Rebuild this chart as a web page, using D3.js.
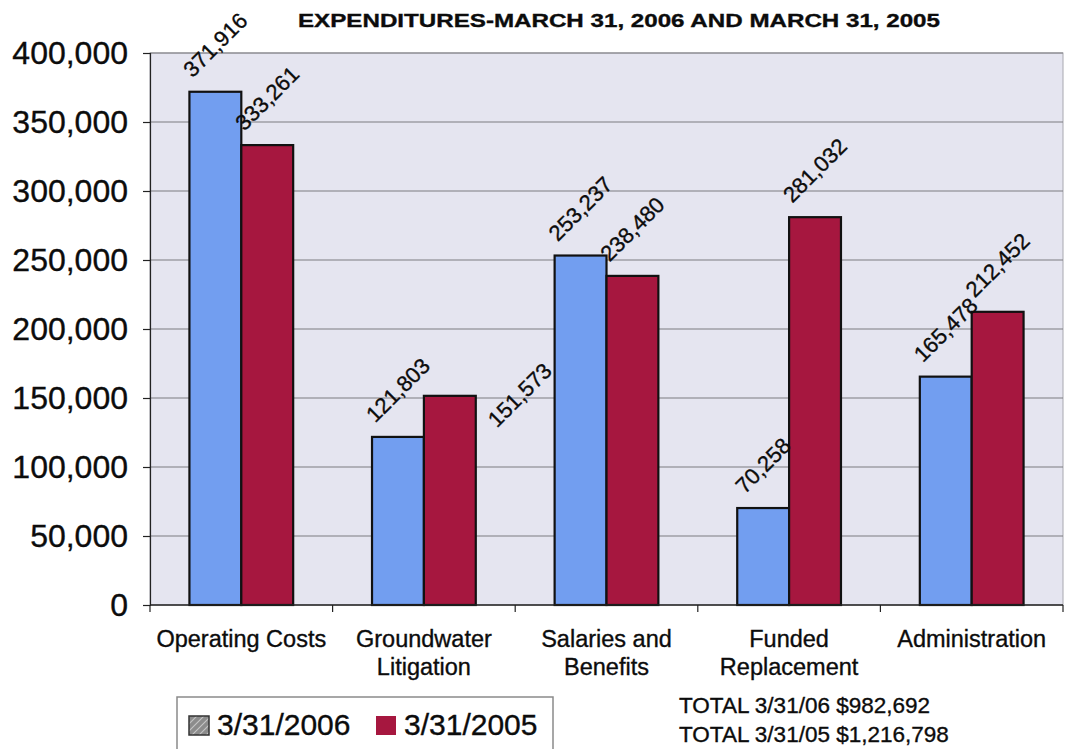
<!DOCTYPE html>
<html>
<head>
<meta charset="utf-8">
<script src="https://cdn.jsdelivr.net/npm/d3@7"></script>
<style>
  html, body { margin: 0; padding: 0; background: #ffffff; }
  svg { display: block; }
  text { font-family: "Liberation Sans", Arial, sans-serif; fill: #0c0c0c; stroke: #0c0c0c; stroke-width: 0.35px; }
</style>
</head>
<body>
<svg id="chart" width="1065" height="749"></svg>
<script>
// Expenditure categories (line breaks mark where labels wrap)
const categories = [
  "Operating Costs",
  "Groundwater\nLitigation",
  "Salaries and\nBenefits",
  "Funded\nReplacement",
  "Administration"
];
const seriesNames = ["3/31/2006", "3/31/2005"];
const values2006 = [371916, 121803, 253237, 70258, 165478];
const values2005 = [333261, 151573, 238480, 281032, 212452];
const yTicks = [0, 50000, 100000, 150000, 200000, 250000, 300000, 350000, 400000];
const totalLabels = ["TOTAL 3/31/06", "TOTAL 3/31/05"];

const series = [
  { name: seriesNames[0], values: values2006, color: "#729ef0" },
  { name: seriesNames[1], values: values2005, color: "#a6173f" }
];

const svg = d3.select("#chart");
const plot = { left: 150, right: 1063, top: 53, bottom: 605 };

const x = d3.scaleBand().domain(categories).range([plot.left, plot.right]).padding(0);
const x1 = d3.scaleBand().domain(seriesNames).range([0, x.bandwidth()]).paddingInner(0).paddingOuter(0.76);
const y = d3.scaleLinear().domain([0, 400000]).range([plot.bottom, plot.top]);

// Plot background
svg.append("rect")
  .attr("x", plot.left).attr("y", plot.top)
  .attr("width", plot.right - plot.left).attr("height", plot.bottom - plot.top)
  .attr("fill", "#e5e5f0").attr("stroke", "#a8a8b0").attr("stroke-width", 1);

// Horizontal gridlines
svg.append("g").selectAll("line")
  .data(yTicks.filter(d => d > 0))
  .join("line")
  .attr("x1", plot.left).attr("x2", plot.right)
  .attr("y1", d => y(d)).attr("y2", d => y(d))
  .attr("stroke", "#7c7c80").attr("stroke-width", 1.2);

// Title
svg.append("text")
  .attr("x", 619).attr("y", 27)
  .attr("text-anchor", "middle")
  .attr("textLength", 642).attr("lengthAdjust", "spacingAndGlyphs")
  .style("font-family", "'Liberation Sans Narrow', 'Liberation Sans', Arial, sans-serif")
  .style("font-weight", "bold").style("font-size", "19px")
  .text("EXPENDITURES-MARCH 31, 2006 AND MARCH 31, 2005");

// Y axis
const yAxis = svg.append("g")
  .attr("transform", `translate(${plot.left},0)`)
  .call(d3.axisLeft(y).tickValues(yTicks).tickFormat(d3.format(",")).tickSize(7).tickPadding(15));
yAxis.select(".domain").attr("stroke", "#222").attr("stroke-width", 1.2);
yAxis.selectAll(".tick line").attr("stroke", "#222").attr("stroke-width", 1.2);
yAxis.selectAll(".tick text")
  .style("font-family", "'Liberation Sans', Arial, sans-serif")
  .style("font-size", "32px").attr("fill", "#0c0c0c");

// Bars
const groups = svg.append("g").selectAll("g")
  .data(series)
  .join("g")
  .attr("fill", d => d.color);

groups.selectAll("rect")
  .data(s => s.values.map((v, i) => ({ s: s.name, cat: categories[i], v })))
  .join("rect")
  .attr("x", d => x(d.cat) + x1(d.s))
  .attr("y", d => y(d.v))
  .attr("width", x1.bandwidth())
  .attr("height", d => y(0) - y(d.v))
  .attr("stroke", "#111").attr("stroke-width", 2.2);

// Bottom axis line and category boundary ticks
svg.append("line")
  .attr("x1", plot.left).attr("x2", plot.right)
  .attr("y1", plot.bottom).attr("y2", plot.bottom)
  .attr("stroke", "#222").attr("stroke-width", 1.4);
const bounds = categories.map(c => x(c)).concat([x.range()[1]]);
svg.append("g").selectAll("line")
  .data(bounds)
  .join("line")
  .attr("x1", d => d).attr("x2", d => d)
  .attr("y1", plot.bottom).attr("y2", plot.bottom + 7)
  .attr("stroke", "#222").attr("stroke-width", 1.2);

// Category labels
const catLabels = svg.append("g").selectAll("text")
  .data(categories)
  .join("text")
  .attr("x", d => x(d) + x.bandwidth() / 2)
  .attr("y", 647)
  .attr("text-anchor", "middle")
  .style("font-size", "23.5px");
catLabels.selectAll("tspan")
  .data(d => d.split("\n"))
  .join("tspan")
  .attr("x", function () { return d3.select(this.parentNode).attr("x"); })
  .attr("dy", (d, i) => i === 0 ? 0 : 28)
  .text(d => d);

// Rotated value labels above each bar
const fmt = d3.format(",");
const labelNudge = { "3/31/2005|Groundwater\nLitigation": [70, 46] };
const labelLayer = svg.append("g");
series.forEach(s => {
  s.values.forEach((v, i) => {
    const cat = categories[i];
    const cx = x(cat) + x1(s.name) + x1.bandwidth() / 2;
    const t = labelLayer.append("text")
      .attr("text-anchor", "middle")
      .attr("dominant-baseline", "central")
      .style("font-size", "22px")
      .text(fmt(v));
    const len = t.node().getComputedTextLength();
    const half = (len + 16) * Math.SQRT1_2 / 2;
    const nudge = labelNudge[s.name + "|" + cat] || [0, 0];
    const cy = y(v) - 13 - half;
    t.attr("transform", `translate(${cx + nudge[0]},${cy + nudge[1]}) rotate(-45)`);
  });
});

// Legend
const defs = svg.append("defs");
const pat = defs.append("pattern")
  .attr("id", "hatch").attr("patternUnits", "userSpaceOnUse")
  .attr("width", 5).attr("height", 5).attr("patternTransform", "rotate(45)");
pat.append("rect").attr("width", 5).attr("height", 5).attr("fill", "#8c8c8c");
pat.append("line").attr("x1", 0).attr("y1", 0).attr("x2", 0).attr("y2", 5)
  .attr("stroke", "#d8d8d8").attr("stroke-width", 1.5);

const legend = svg.append("g");
legend.append("rect")
  .attr("x", 177).attr("y", 697).attr("width", 376).attr("height", 70)
  .attr("fill", "#ffffff").attr("stroke", "#8a8a8a").attr("stroke-width", 1.5);
const legendItems = [
  { name: seriesNames[0], fill: "url(#hatch)", sx: 189, tx: 217 },
  { name: seriesNames[1], fill: series[1].color, sx: 376, tx: 404 }
];
legend.selectAll("rect.sw")
  .data(legendItems)
  .join("rect")
  .attr("class", "sw")
  .attr("x", d => d.sx).attr("y", 716)
  .attr("width", 20).attr("height", 19)
  .attr("fill", d => d.fill)
  .attr("stroke", (d, i) => i === 0 ? "#333" : "none").attr("stroke-width", 1.5);
legend.selectAll("text")
  .data(legendItems)
  .join("text")
  .attr("x", d => d.tx).attr("y", 735)
  .style("font-size", "30px")
  .text(d => d.name);

// Totals
const totals = [d3.sum(values2006), d3.sum(values2005)];
svg.append("g").selectAll("text")
  .data(totals)
  .join("text")
  .attr("x", 679)
  .attr("y", (d, i) => 713 + i * 29)
  .style("font-size", "22.5px")
  .text((d, i) => `${totalLabels[i]} $${fmt(d)}`);
</script>
</body>
</html>
